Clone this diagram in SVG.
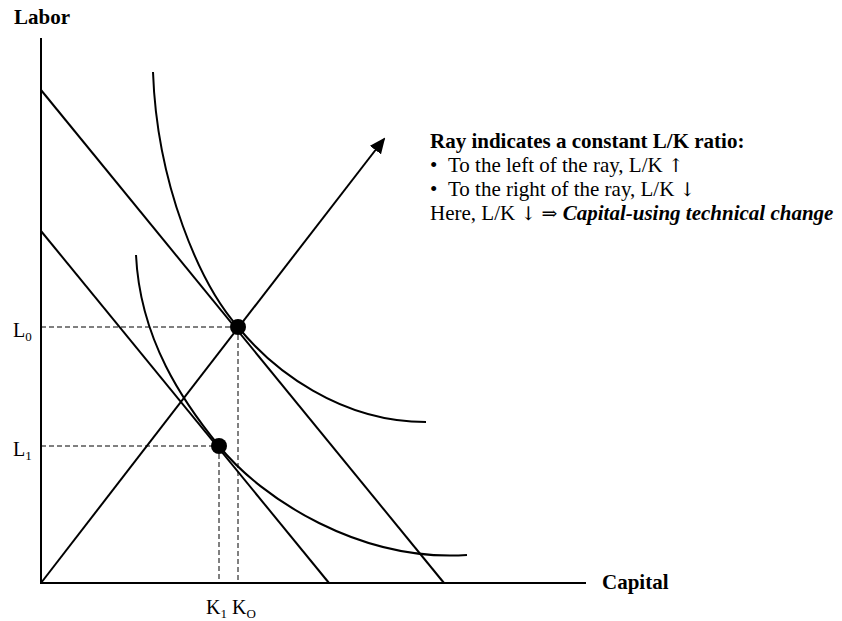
<svg xmlns="http://www.w3.org/2000/svg" width="842" height="621" viewBox="0 0 842 621">
<style>
.ln{stroke:#000;stroke-width:2;fill:none}
.ds{stroke:#000;stroke-width:1;fill:none;stroke-dasharray:5,3}
.t{font-family:"Liberation Serif","Times New Roman",serif;font-size:21px;fill:#000}
.lb{font-size:20px}
.b{font-weight:bold}
.sub{font-size:13px}
.ar{font-family:"DejaVu Serif","Liberation Serif",serif;font-size:19px}
</style>
<defs>
<marker id="ah" markerWidth="16" markerHeight="14" refX="14" refY="7" orient="auto" markerUnits="userSpaceOnUse">
<path d="M0,0 L16,7 L0,14 Z" fill="#000"/>
</marker>
</defs>
<rect width="842" height="621" fill="#fff"/>
<g id="axes">
<line class="ln" x1="41" y1="38" x2="41" y2="584"/>
<line class="ln" x1="40" y1="583" x2="586" y2="583"/>
<text class="t b" x="14" y="24">Labor</text>
<text class="t b" x="602" y="589">Capital</text>
</g>
<g id="connectors">
<line class="ln" x1="41" y1="583" x2="384" y2="139" marker-end="url(#ah)"/>
<line class="ln" x1="41" y1="90" x2="444" y2="583"/>
<line class="ln" x1="41" y1="231" x2="329" y2="583"/>
<path class="ln" d="M153,72 C157,185 200,284 238,327 C273,370 340,422 426,422"/>
<path class="ln" d="M136,255 C140,340 184,403 219,446 C262,499 360,562 467,555"/>
<line class="ds" x1="41" y1="327" x2="238" y2="327"/>
<line class="ds" x1="238" y1="327" x2="238" y2="583"/>
<line class="ds" x1="41" y1="446" x2="219" y2="446"/>
<line class="ds" x1="219" y1="446" x2="219" y2="583"/>
</g>
<g id="point0"><circle cx="238" cy="327" r="8" fill="#000"/></g>
<g id="point1"><circle cx="219" cy="446" r="8" fill="#000"/></g>
<g id="labels">
<text class="t lb" x="13" y="337">L<tspan class="sub" dy="4">0</tspan></text>
<text class="t lb" x="13" y="456">L<tspan class="sub" dy="4">1</tspan></text>
<text class="t lb" x="206" y="614">K<tspan class="sub" dy="4">1</tspan><tspan dy="-4"> K</tspan><tspan class="sub" dy="4">O</tspan></text>
</g>
<g id="note">
<text class="t b" x="430" y="148">Ray indicates a constant L/K ratio:</text>
<text class="t" x="430" y="172">•<tspan x="448">To the left of the ray, L/K </tspan><tspan class="ar">↑</tspan></text>
<text class="t" x="430" y="196">•<tspan x="448">To the right of the ray, L/K </tspan><tspan class="ar">↓</tspan></text>
<text class="t" x="430" y="220">Here, L/K <tspan class="ar">↓</tspan> <tspan class="ar">⇒</tspan> <tspan font-weight="bold" font-style="italic">Capital-using technical change</tspan></text>
</g>
</svg>
